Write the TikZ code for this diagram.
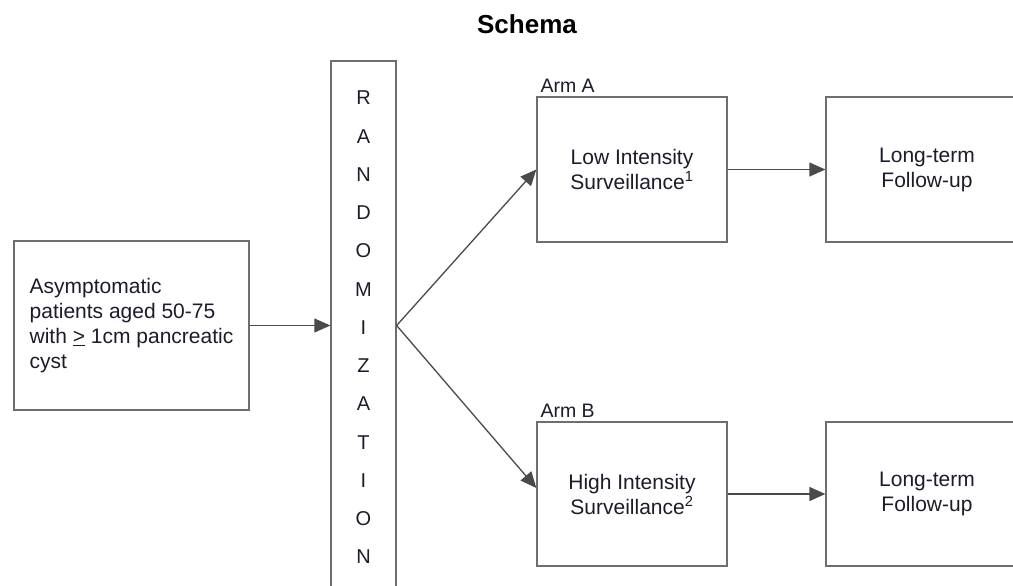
\documentclass[tikz,border=0pt]{standalone}
\usepackage{fontspec}
\setmainfont{Liberation Sans}
\usetikzlibrary{arrows.meta,calc}
\definecolor{edge}{HTML}{6E6E6E}
\definecolor{arrowc}{HTML}{4A4A4A}
\definecolor{txt}{HTML}{1C1C2A}
\tikzset{
  box/.style={draw=edge, line width=1.3pt, fill=white, text=txt, inner sep=0pt,
    font=\fontsize{21}{25}\selectfont},
  arr/.style={draw=arrowc, line width=1.3pt, -{Triangle[length=16pt,width=14pt]}},
  armlabel/.style={text=txt, font=\fontsize{19.5}{20}\selectfont, inner sep=1pt, anchor=south west},
}
\begin{document}
\begin{tikzpicture}[x=1pt,y=-1pt]
\useasboundingbox[fill=white] (0,0) rectangle (1013,586);
\node[font=\bfseries\fontsize{26}{28}\selectfont, text=black] (title) at (527,24) {Schema};
\node[box, minimum width=235pt, minimum height=169pt, align=left] (pop) at (131.5,325.5)
  {Asymptomatic\\patients aged 50-75\\with \underline{>} 1cm pancreatic\\cyst};
\node[box, minimum width=65pt, minimum height=533pt, align=center,
  font=\fontsize{20}{38.25}\selectfont] (rand) at (363.5,327.5)
  {R\\A\\N\\D\\O\\M\\I\\Z\\A\\T\\I\\O\\N};
\node[box, minimum width=190pt, minimum height=145pt, align=center] (armA) at (632,169.5)
  {Low Intensity\\Surveillance\textsuperscript{1}};
\node[box, minimum width=202pt, minimum height=145pt, align=center] (ltA) at (927,169.5)
  {Long-term\\Follow-up};
\node[box, minimum width=190pt, minimum height=144pt, align=center] (armB) at (632,494)
  {High Intensity\\Surveillance\textsuperscript{2}};
\node[box, minimum width=202pt, minimum height=144pt, align=center] (ltB) at (927,494)
  {Long-term\\Follow-up};
\node[armlabel] (labA) at ([xshift=3pt,yshift=3pt]armA.north west) {Arm A};
\node[armlabel] (labB) at ([xshift=3pt,yshift=3pt]armB.north west) {Arm B};
\coordinate (br) at (pop.east -| rand.east);
\draw[arr] (pop.east) -- (pop.east -| rand.west);
\draw[arr] (br) -- (armA.west);
\draw[arr] (br) -- ([yshift=6pt]armB.west);
\draw[arr] (armA.east) -- (ltA.west);
\draw[arr] (armB.east) -- (ltB.west);
\end{tikzpicture}
\end{document}
